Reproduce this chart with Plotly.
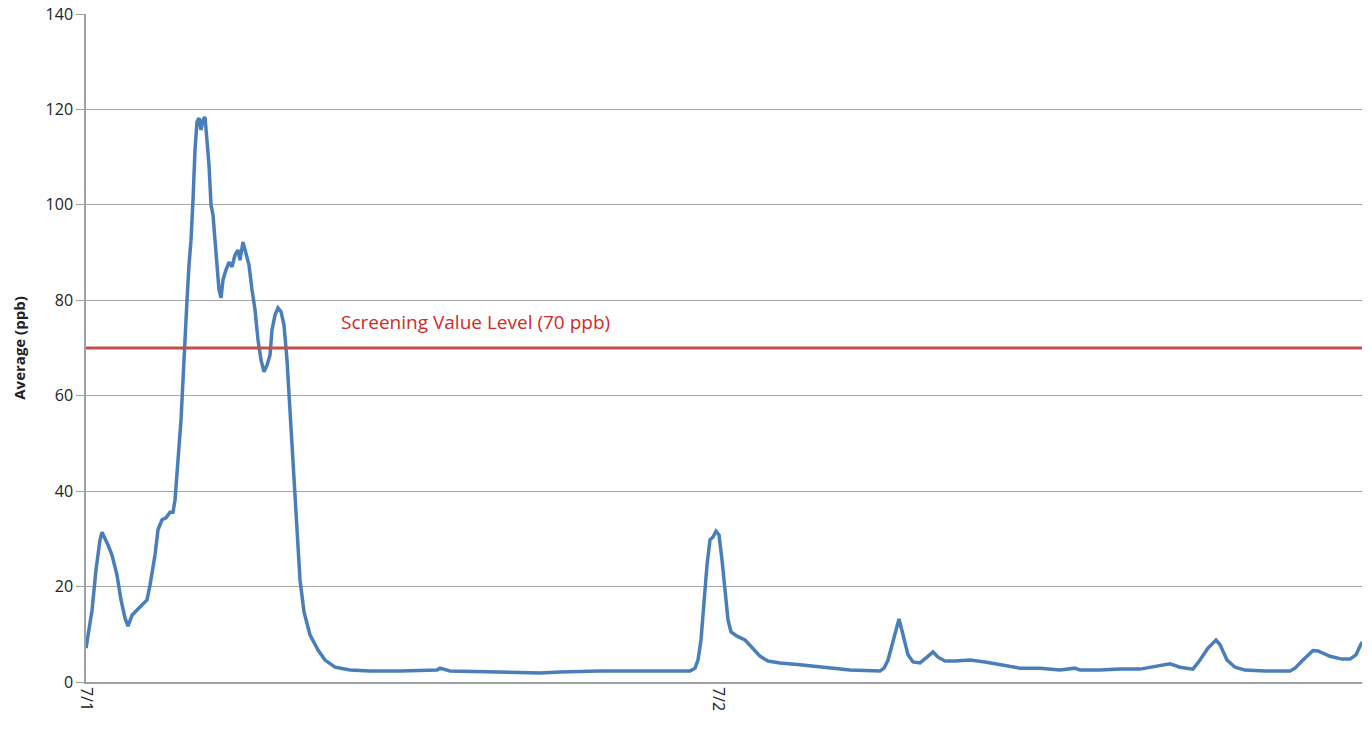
import plotly.graph_objects as go

# hours since 7/1 00:00 (read as pixel positions, converted with the axis scale below)
hours_px = [86,92,96,100,102,105,108,112,117,121,125,128,132,137,142,147,150,155,158,162,166,170,173,175,178,181,183,185,187,189,191,193,195,197,199,201,203,205,207,209,211,213,215,217,219,221,223,226,229,232,235,238,240,243,246,249,252,255,258,261,264,267,270,272,275,278,281,284,287,290,293,296,300,304,310,318,325,335,350,370,400,437,440,450,500,540,560,600,640,690,695,698,701,704,707,710,713,716,719,722,725,728,731,737,745,752,760,768,780,800,830,850,880,884,888,893,899,903,908,913,920,927,933,938,945,955,970,985,1000,1020,1040,1060,1075,1080,1100,1120,1140,1150,1170,1180,1193,1200,1208,1216,1220,1227,1235,1245,1265,1290,1295,1303,1313,1318,1330,1342,1350,1356,1362]
values = [7.1,15,23.5,29.8,31.4,29.8,28.7,26.6,22.4,17.2,13.4,11.7,14.0,15.1,16.1,17.2,20.3,26.6,31.9,34,34.4,35.6,35.6,38.1,46.5,54.9,63.3,73.8,80,87.4,92.6,101,111.5,117.4,118.2,115.7,117.8,118.4,113.6,108.4,100,97.9,92.6,87.4,82.2,80.5,84.3,86.4,88,87,89.5,90.5,88.4,92.2,89.5,87.4,82.2,78,71.7,67.5,65,66.4,68.5,73.8,76.9,78.4,77.6,74.8,67.5,57,46.5,34,21.4,14.7,9.9,6.7,4.6,3.1,2.5,2.3,2.3,2.5,2.9,2.3,2.1,1.9,2.1,2.3,2.3,2.3,2.9,4.6,8.8,17.2,24.5,29.8,30.4,31.6,30.8,25.6,19.3,13,10.5,9.6,8.8,7.1,5.4,4.4,4,3.6,2.9,2.5,2.3,2.9,4.6,8.8,13.2,9.9,5.7,4.2,4,5.2,6.3,5.2,4.4,4.4,4.6,4.2,3.6,2.9,2.9,2.5,2.9,2.5,2.5,2.7,2.7,3.1,3.8,3.1,2.7,4.6,7.1,8.8,7.8,4.6,3.1,2.5,2.3,2.3,2.9,4.6,6.6,6.5,5.4,4.8,4.8,5.7,8.4]
hours = [(p - 86) / (632 / 24) for p in hours_px]

tick_hours = [0, 24]
tick_labels = ["7/1", "7/2"]
screening_level = 70
x_max = (1362 - 86) / (632 / 24)

fig = go.Figure()
fig.add_trace(go.Scatter(x=hours, y=values, mode="lines",
                         line=dict(color="#4A7EBB", width=3.5), hoverinfo="skip"))
fig.add_trace(go.Scatter(x=[0, x_max], y=[screening_level, screening_level], mode="lines",
                         line=dict(color="#C0504D", width=3), hoverinfo="skip"))
fig.add_annotation(x=14.8, y=75.5, text="Screening Value Level (70 ppb)", showarrow=False,
                   font=dict(color="#D02A2A", size=19, family="Open Sans"))

fig.update_layout(
    width=1372, height=731,
    margin=dict(l=86, r=10, t=14, b=49),
    plot_bgcolor="white", paper_bgcolor="white",
    showlegend=False,
    font=dict(family="Open Sans", size=16, color="#222"),
)
fig.update_xaxes(range=[0, x_max], tickvals=tick_hours, ticktext=tick_labels, tickangle=90,
                 showgrid=False, zeroline=False, showline=True, linecolor="#A0A0A0", linewidth=1.5,
                 ticks="", tickfont=dict(size=16), automargin=False)
fig.update_yaxes(range=[0, 140], dtick=20, showgrid=True, gridcolor="#A6A6A6", gridwidth=1,
                 zeroline=False, showline=True, linecolor="#A0A0A0", linewidth=1.5,
                 ticks="outside", ticklen=8, tickcolor="#A0A0A0",
                 title=dict(text="<b>Average (ppb)</b>", font=dict(size=15), standoff=16),
                 tickfont=dict(size=16), automargin=False)

fig.write_html("out.html", config={"displayModeBar": False},
               post_script="document.body.style.margin='0';document.body.style.overflow='hidden';")
